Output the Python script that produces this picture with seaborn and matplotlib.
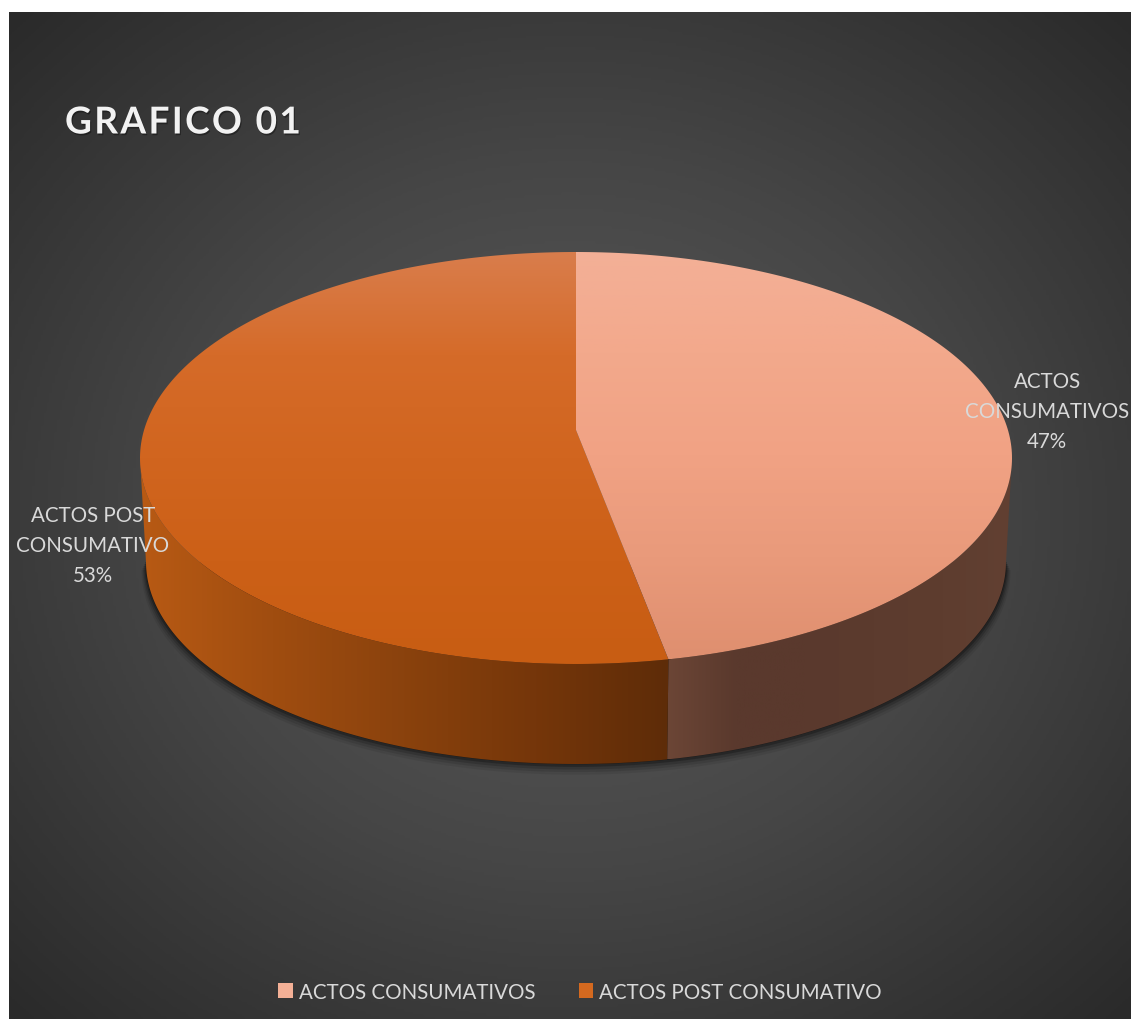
import numpy as np
import matplotlib
matplotlib.use("Agg")
import matplotlib.pyplot as plt
import matplotlib.patheffects as pe
from matplotlib.patches import Patch, Polygon
import seaborn as sns

# Data
categories = ["ACTOS CONSUMATIVOS", "ACTOS POST CONSUMATIVO"]
label_lines = ["ACTOS\nCONSUMATIVOS", "ACTOS POST\nCONSUMATIVO"]
shares = [46.6, 53.4]
title = "GRAFICO 01"

# Pie geometry, in image pixels
CX, CY, RX, RY = 576, 459, 436, 206
APEX_Y = 431
BOT_CY, BOT_RX, BOT_RY = 563, 430, 202

W, H = 1131, 1020

sns.set_theme(style="white")
plt.rcParams["font.family"] = ["Lato", "DejaVu Sans"]

fig = plt.figure(figsize=(W / 100, H / 100), dpi=100, facecolor="white")
ax = fig.add_axes([0, 0, 1, 1])


def arc(t0, t1, cy=CY, rx=RX, ry=RY, n=200):
    # t is measured clockwise from the top of the ellipse
    t = np.linspace(t0, t1, n)
    return np.column_stack([CX + rx * np.sin(t), cy - ry * np.cos(t)])


def fill_gradient(points, colors, horizontal=False, zorder=3):
    cmap = sns.blend_palette(colors, as_cmap=True)
    x0, y0 = points.min(axis=0)
    x1, y1 = points.max(axis=0)
    ramp = np.linspace(0, 1, 256)
    ramp = ramp[None, :] if horizontal else ramp[:, None]
    im = ax.imshow(ramp, cmap=cmap, extent=(x0, x1, y1, y0), origin="upper",
                   aspect="auto", zorder=zorder, vmin=0, vmax=1)
    clip = Polygon(points, closed=True, transform=ax.transData, fc="none", ec="none")
    ax.add_patch(clip)
    im.set_clip_path(clip)


# Background: radial grey gradient
yy, xx = np.mgrid[13:1020:400j, 9:1131:400j]
r = np.hypot((xx - 570) / 563, (yy - 516) / 503) / 1.41
bg_cmap = sns.blend_palette(["#5a5a5a", "#515151", "#464646", "#383838", "#2a2a2a"], as_cmap=True)
ax.imshow(np.clip(r, 0, 1), cmap=bg_cmap, extent=(9, 1131, 1020, 13), origin="upper",
          aspect="auto", zorder=0, vmin=0, vmax=1)

# Split angle from the data
split = 2 * np.pi * shares[0] / sum(shares)

# Soft shadow under the disc
for off, alpha in zip([9, 7, 5, 3, 1], [0.07, 0.1, 0.16, 0.24, 0.35]):
    shadow = arc(np.pi / 2, 3 * np.pi / 2, cy=BOT_CY + off - 1, rx=BOT_RX + off * 0.5, ry=BOT_RY + off * 0.3)
    ax.add_patch(Polygon(shadow, closed=True, fc="black", ec="none", alpha=alpha, zorder=1))

# Side walls
right_wall = np.vstack([arc(np.pi / 2, split), arc(split, np.pi / 2, cy=BOT_CY, rx=BOT_RX, ry=BOT_RY)])
left_wall = np.vstack([arc(split, 3 * np.pi / 2), arc(3 * np.pi / 2, split, cy=BOT_CY, rx=BOT_RX, ry=BOT_RY)])
fill_gradient(right_wall, ["#6c4636", "#5a392d", "#5a392d", "#5c3b2e", "#5e3d2f", "#624032"], horizontal=True)
fill_gradient(left_wall, ["#b85a14", "#a04d10", "#8a420d", "#75360a", "#5e2c08"], horizontal=True)

# Top faces
apex = np.array([[CX, APEX_Y]])
right_top = np.vstack([apex, arc(0, split)])
left_top = np.vstack([apex, arc(split, 2 * np.pi)])
fill_gradient(left_top, ["#d97d4c", "#d56b29", "#d1651f", "#cc6017", "#c85d13"], zorder=4)
fill_gradient(right_top, ["#f3b097", "#f3a98c", "#f1a284", "#e99a7b", "#df8f6f"], zorder=5)

# Data labels
label_style = dict(color="#d9d9d9", fontsize=14.8, ha="center", va="center", linespacing=1.62, zorder=7)
for name, share, (lx, ly) in zip(label_lines, shares, [(1047, 412), (93, 546)]):
    ax.text(lx, ly, f"{name}\n{share:.0f}%", **label_style)

# Title
ax.text(65, 124, "\u200a".join(title), color="#f2f2f2", fontsize=26.7, fontweight="bold",
        ha="left", va="center", zorder=7,
        path_effects=[pe.withSimplePatchShadow(offset=(0.8, -1.2), shadow_rgbFace="black", alpha=0.35)])

# Legend
handles = [Patch(facecolor="#f4b096", edgecolor="none", label=categories[0]),
           Patch(facecolor="#d4691f", edgecolor="none", label=categories[1])]
leg = ax.legend(handles=handles, ncol=2, loc="center", bbox_to_anchor=(580, 993),
                bbox_transform=ax.transData, frameon=False, fontsize=14.8,
                handlelength=0.72, handleheight=0.72, handletextpad=0.3, columnspacing=2.1,
                labelcolor="#d9d9d9")
leg.set_zorder(7)

ax.set_xlim(0, W)
ax.set_ylim(H, 0)
ax.axis("off")

fig.savefig("out.png", dpi=100, facecolor="white")
